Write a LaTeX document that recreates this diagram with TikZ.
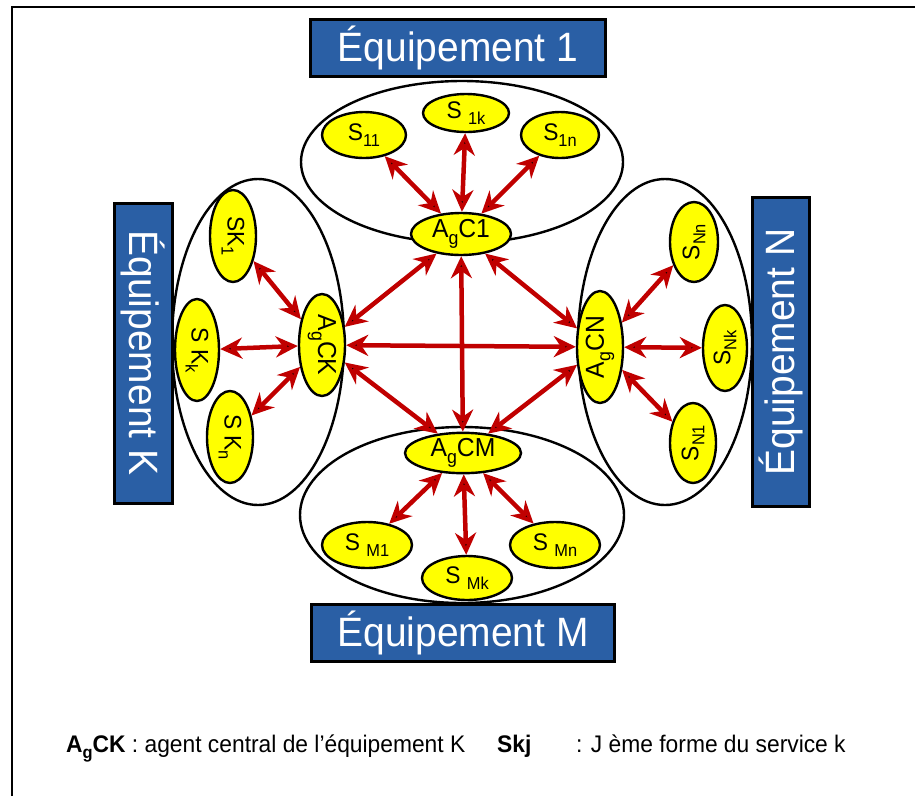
\documentclass[tikz,border=0pt]{standalone}
\usepackage{fontspec}
\setmainfont{Liberation Sans}[FakeStretch=0.95]
\usetikzlibrary{shapes.geometric, arrows.meta}

\definecolor{equipblue}{RGB}{42,95,165}
\definecolor{svcyellow}{RGB}{255,255,0}
\definecolor{linkred}{RGB}{192,0,0}
\newcommand\dn[1]{\raisebox{-0.25em}{\scalebox{0.72}{#1}}}

\begin{document}
\begin{tikzpicture}[x=1pt, y=-1pt,
    grp/.style = {ellipse, draw, line width=2.4pt, inner sep=0pt},
    svc/.style = {ellipse, draw, line width=2.4pt, fill=svcyellow, inner sep=0pt,
                  font=\fontsize{24}{24}\selectfont},
    ctr/.style = {svc, font=\fontsize{26}{26}\selectfont},
    equip/.style = {draw, line width=3pt, fill=equipblue, text=white, inner sep=0pt,
                    font=\fontsize{41}{41}\selectfont},
    dbl/.style = {{Stealth[length=22pt, width=21pt]}-{Stealth[length=22pt, width=21pt]},
                  line width=4.5pt, draw=linkred},
    legend/.style = {anchor=base west, inner sep=0pt, font=\fontsize{24}{24}\selectfont}]
  \useasboundingbox (0,0) rectangle (915,796);
  \draw[line width=2pt] (12,796) -- (12,7) -- (915,7);

  \node[grp, minimum width=322pt, minimum height=162pt] (g1) at (462,162) {};
  \node[grp, minimum width=172pt, minimum height=326pt] (gK) at (258,342) {};
  \node[grp, minimum width=174pt, minimum height=326pt] (gN) at (665,342) {};
  \node[grp, minimum width=324pt, minimum height=176pt] (gM) at (462,515) {};

  \node[equip, minimum width=295pt, minimum height=57pt] (e1) at (458,48) {Équipement 1};
  \node[equip, rotate=-90, minimum width=300pt, minimum height=58pt] (eK) at (143,353) {Équipement K};
  \node[equip, rotate=90, minimum width=309pt, minimum height=57pt] (eN) at (781,352) {Équipement N};
  \node[equip, minimum width=303pt, minimum height=57pt] (eM) at (463,633) {Équipement M};

  \node[svc, minimum width=84pt, minimum height=46pt] (s11) at (364,135) {S\dn{11}};
  \node[svc, minimum width=86pt, minimum height=38pt] (s1k) at (466,113) {S \dn{1k}};
  \node[svc, minimum width=78pt, minimum height=46pt] (s1n) at (560,135) {S\dn{1n}};
  \node[ctr, minimum width=100pt, minimum height=42pt] (c1) at (461,234) {A\dn{g}C1};

  \node[svc, rotate=-90, minimum width=92pt, minimum height=46pt] (sK1) at (233,236) {SK\dn{1}};
  \node[svc, rotate=-90, minimum width=102pt, minimum height=44pt] (sKk) at (197,350) {S K\dn{k}};
  \node[svc, rotate=-90, minimum width=92pt, minimum height=46pt] (sKn) at (230,437) {S K\dn{n}};
  \node[ctr, rotate=-90, minimum width=102pt, minimum height=46pt] (cK) at (322,345) {A\dn{g}CK};

  \node[svc, rotate=90, minimum width=80pt, minimum height=48pt] (sNn) at (694,242) {S\dn{Nn}};
  \node[svc, rotate=90, minimum width=86pt, minimum height=44pt] (sNk) at (725,348) {S\dn{Nk}};
  \node[svc, rotate=90, minimum width=80pt, minimum height=46pt] (sN1) at (693,443) {S\dn{N1}};
  \node[ctr, rotate=90, minimum width=112pt, minimum height=46pt] (cN) at (600,347) {A\dn{g}CN};

  \node[ctr, minimum width=116pt, minimum height=40pt] (cM) at (463,453) {A\dn{g}CM};
  \node[svc, minimum width=90pt, minimum height=46pt] (sM1) at (367,545) {S \dn{M1}};
  \node[svc, minimum width=90pt, minimum height=44pt] (sMk) at (467,578) {S \dn{Mk}};
  \node[svc, minimum width=90pt, minimum height=46pt] (sMn) at (555,545) {S \dn{Mn}};

  \path[dbl]
    (c1) edge (s11) edge (s1k) edge (s1n)
         edge (cK) edge (cN) edge (cM)
    (cK) edge (sK1) edge (sKk) edge (sKn)
         edge (cN) edge (cM)
    (cN) edge (sNn) edge (sNk) edge (sN1)
         edge (cM)
    (cM) edge (sM1) edge (sMk) edge (sMn);

  \node[legend] (lg1) at (66,752) {\textbf{A\dn{g}CK} : agent central de l’équipement K};
  \node[legend] (lg2) at (497,752) {\textbf{Skj}};
  \node[legend] (lg3) at (576,752) {: J ème forme du service k};
\end{tikzpicture}
\end{document}
